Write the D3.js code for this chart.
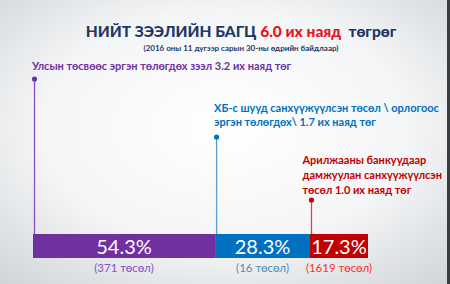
<!DOCTYPE html>
<html>
<head>
<meta charset="utf-8">
<script src="https://cdn.jsdelivr.net/npm/d3@7"></script>
<style>
  html, body { margin: 0; padding: 0; }
  body { width: 450px; height: 284px; overflow: hidden; }
  svg text { font-family: Lato, "Open Sans", sans-serif; }
</style>
</head>
<body>
<div id="chart"></div>
<script>
// data
var categories = ["Улсын төсвөөс", "ХБ-с шууд", "Арилжааны банк"];
var shares = [54.3, 28.3, 17.3];
var projects = ["(371 төсөл)", "(16 төсөл)", "(1619 төсөл)"];
var labelLines = [
  ["Улсын төсвөөс эргэн төлөгдөх зээл 3.2 их наяд төг"],
  ["ХБ-с шууд санхүүжүүлсэн төсөл \\ орлогоос", "эргэн төлөгдөх\\ 1.7 их наяд төг"],
  ["Арилжааны банкуудаар", "дамжуулан санхүүжүүлсэн", "төсөл 1.0 их наяд төг"]
];
var barColors = ["#7030a0", "#0070c0", "#c00000"];
var textColors = ["#7030a0", "#0070c0", "#c00000"];
var lineColors = ["#8a4fc0", "#5b9bd5", "#e0404a"];
var countColors = ["#8a4fc0", "#4a90b8", "#ff3030"];

var width = 450, height = 284;

var svg = d3.select("#chart").append("svg")
  .attr("width", width).attr("height", height);

// background gradient
var defs = svg.append("defs");
var grad = defs.append("radialGradient").attr("id", "bg")
  .attr("cx", "50%").attr("cy", "45%").attr("r", "75%");
grad.append("stop").attr("offset", "0%").attr("stop-color", "#ffffff");
grad.append("stop").attr("offset", "55%").attr("stop-color", "#f4f5f6");
grad.append("stop").attr("offset", "100%").attr("stop-color", "#cfd4d8");
svg.append("rect").attr("width", width).attr("height", height).attr("fill", "url(#bg)");
svg.append("rect").attr("x", 447).attr("width", 3).attr("height", height).attr("fill", "#3a3d40");

// title
var title = svg.append("text").attr("x", 241).attr("y", 37)
  .attr("text-anchor", "middle").style("font-size", "15.5px").style("font-weight", 900)
  .attr("fill", "#1f3864");
title.append("tspan").text("НИЙТ ЗЭЭЛИЙН БАГЦ ");
title.append("tspan").attr("fill", "#e8141b").text("6.0 их наяд");
title.append("tspan").attr("xml:space", "preserve").text("  төгрөг");

svg.append("text").attr("x", 241).attr("y", 51)
  .attr("text-anchor", "middle").style("font-size", "8px").style("font-weight", 700)
  .attr("fill", "#1f3864")
  .text("(2016 оны 11 дүгээр сарын 30-ны өдрийн байдлаар)");

// scale
var x = d3.scaleLinear().domain([0, d3.sum(shares)]).range([33, 368]);
var starts = d3.cumsum([0].concat(shares.slice(0, -1)));
var segs = shares.map(function (v, i) {
  return { i: i, v: v, x0: x(starts[i]), x1: x(starts[i] + v) };
});

var barTop = 234, barH = 24;
var labelTop = [70, 112, 164];
var lineStep = [14, 14, 15];
var dotY = [79, 137, 200];
var rightLimit = 442;

// leader lines and dots
svg.selectAll(".leader").data(segs).enter().append("line")
  .attr("x1", function (d) { return d.x0 + 1.5; })
  .attr("x2", function (d) { return d.x0 + 1.5; })
  .attr("y1", function (d) { return dotY[d.i]; })
  .attr("y2", barTop)
  .attr("stroke", function (d) { return lineColors[d.i]; })
  .attr("stroke-width", 1.3);

svg.selectAll(".dot").data(segs).enter().append("circle")
  .attr("cx", function (d) { return d.x0 + 1.5; })
  .attr("cy", function (d) { return dotY[d.i]; })
  .attr("r", 2.6)
  .attr("fill", function (d) { return barColors[d.i]; });

// category labels, kept inside the right edge
segs.forEach(function (d) {
  var t = svg.append("text")
    .attr("y", labelTop[d.i])
    .style("font-size", "11px").style("font-weight", 700)
    .attr("fill", textColors[d.i]);
  var spans = labelLines[d.i].map(function (line, k) {
    return t.append("tspan").attr("dy", k === 0 ? 0 : lineStep[d.i]).text(line);
  });
  var w = d3.max(spans, function (s) { return s.node().getComputedTextLength(); });
  var lx = Math.min(d.x0 - 1, rightLimit - w);
  spans.forEach(function (s) { s.attr("x", lx); });
});

// bars
svg.selectAll(".seg").data(segs).enter().append("rect")
  .attr("x", function (d) { return d.x0; })
  .attr("y", barTop)
  .attr("width", function (d) { return d.x1 - d.x0; })
  .attr("height", barH)
  .attr("fill", function (d) { return barColors[d.i]; });

svg.selectAll(".pct").data(segs).enter().append("text")
  .attr("x", function (d) { return (d.x0 + d.x1) / 2; })
  .attr("y", barTop + 20)
  .attr("text-anchor", "middle")
  .style("font-size", "20px")
  .attr("fill", "#ffffff")
  .text(function (d) { return d.v.toFixed(1) + "%"; });

svg.selectAll(".cnt").data(segs).enter().append("text")
  .attr("x", function (d) { return (d.x0 + d.x1) / 2; })
  .attr("y", 272)
  .attr("text-anchor", "middle")
  .style("font-size", "11.5px")
  .attr("fill", function (d) { return countColors[d.i]; })
  .text(function (d) { return projects[d.i]; });
</script>
</body>
</html>
